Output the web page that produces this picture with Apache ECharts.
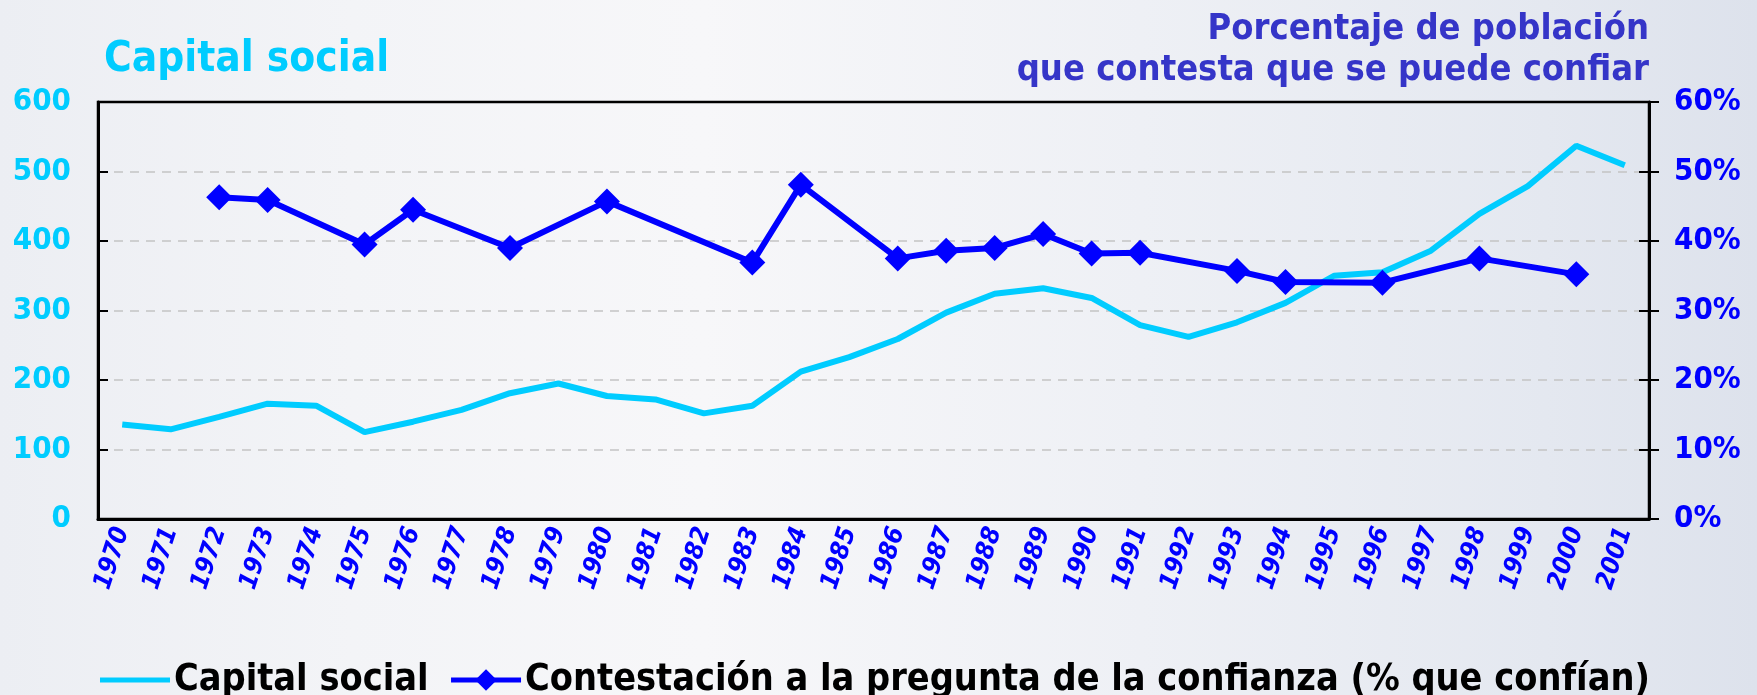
<!DOCTYPE html>
<html>
<head>
<meta charset="utf-8">
<script src="https://cdn.jsdelivr.net/npm/echarts@6/dist/echarts.min.js"></script>
<style>
  html, body { margin: 0; padding: 0; }
  body {
    width: 1757px; height: 695px; overflow: hidden;
    background: linear-gradient(90deg, #eceef3 0%, #f3f4f7 20%, #f7f7f9 40%, #eef0f5 65%, #e4e8f0 88%, #dde2ec 100%);
  }
  #chart { width: 1757px; height: 695px; }
</style>
</head>
<body>
<div id="chart"></div>
<script>
const years = ['1970','1971','1972','1973','1974','1975','1976','1977','1978','1979',
  '1980','1981','1982','1983','1984','1985','1986','1987','1988','1989',
  '1990','1991','1992','1993','1994','1995','1996','1997','1998','1999','2000','2001'];

const capitalSocial = [136, 129, 147, 166, 163, 125, 140, 157, 181, 195,
  177, 172, 152, 163, 212, 233, 259, 297, 324, 332,
  318, 279, 262, 283, 311, 350, 355, 386, 439, 479, 537, 509];

const confianza = [null, null, 46.3, 45.9, null, 39.5, 44.5, null, 39.0, null,
  45.7, null, null, 36.9, 48.1, null, 37.5, 38.6, 39.0, 41.0,
  38.2, 38.3, null, 35.7, 34.1, null, 34.0, null, 37.5, null, 35.2, null];

const leftTicks = { min: 0, max: 600, interval: 100 };
const rightTicks = { min: 0, max: 60, interval: 10 };

const COND = "'DejaVu Sans Condensed', 'Liberation Sans Narrow', 'DejaVu Sans', sans-serif";
const CYAN = '#00ccff';
const BLUE = '#0000ff';

const chart = echarts.init(document.getElementById('chart'), null, { renderer: 'canvas' });

chart.setOption({
  backgroundColor: 'transparent',
  animation: false,
  graphic: [
    { type: 'text', left: 104, top: 39, style: { text: 'Capital social', fill: CYAN, font: 'bold 42px ' + COND } },
    { type: 'text', style: { text: 'Porcentaje de población', x: 1649, y: 30, textAlign: 'right', textVerticalAlign: 'middle', fill: '#3535c8', font: 'bold 36px ' + COND } },
    { type: 'text', style: { text: 'que contesta que se puede confiar', x: 1649, y: 71, textAlign: 'right', textVerticalAlign: 'middle', fill: '#3535c8', font: 'bold 36px ' + COND } }
  ],
  grid: {
    left: 98, right: 108, top: 102, height: 417,
    show: true, borderColor: '#000', borderWidth: 2.5, backgroundColor: 'transparent'
  },
  legend: {
    top: 656, left: 95,
    itemWidth: 70, itemHeight: 27, itemGap: 20,
    lineStyle: { width: 5 },
    textStyle: { color: '#000', fontWeight: 'bold', fontSize: 37.5, fontFamily: COND, padding: [0, 0, 0, -1] },
    data: [
      { name: 'Capital social', icon: 'path://M0,0 L14,0 L14,1 L0,1 Z' },
      { name: 'Contestación a la pregunta de la confianza (% que confían)' }
    ]
  },
  xAxis: {
    type: 'category',
    data: years,
    boundaryGap: true,
    axisLine: { lineStyle: { color: '#000', width: 3 } },
    axisTick: { inside: true, length: 9, lineStyle: { color: '#000', width: 2 } },
    axisLabel: {
      interval: 0, rotate: 72, margin: 9,
      color: BLUE, fontStyle: 'italic', fontWeight: 'bold', fontSize: 25.5, fontFamily: COND
    },
    splitLine: { show: false }
  },
  yAxis: [
    {
      type: 'value', position: 'left', min: leftTicks.min, max: leftTicks.max, interval: leftTicks.interval,
      axisLine: { show: true, lineStyle: { color: '#000', width: 3 } },
      axisTick: { show: true, inside: true, length: 10, lineStyle: { color: '#000', width: 2 } },
      axisLabel: { color: CYAN, fontWeight: 'bold', fontSize: 31, fontFamily: COND, margin: 27 },
      splitLine: { show: true, showMinLine: false, showMaxLine: false, lineStyle: { color: '#c4c4c4', width: 1.5, type: [9, 7] } }
    },
    {
      type: 'value', position: 'right', min: rightTicks.min, max: rightTicks.max, interval: rightTicks.interval,
      axisLine: { show: true, lineStyle: { color: '#000', width: 3 } },
      axisTick: { show: true, inside: true, length: 10, lineStyle: { color: '#000', width: 2 } },
      axisLabel: { color: BLUE, fontWeight: 'bold', fontSize: 31, fontFamily: COND, margin: 25, formatter: '{value}%' },
      splitLine: { show: false }
    },
    {
      type: 'value', position: 'right', min: rightTicks.min, max: rightTicks.max, interval: rightTicks.interval,
      axisLine: { show: false },
      axisTick: { show: true, inside: false, length: 10, lineStyle: { color: '#000', width: 2 } },
      axisLabel: { show: false },
      splitLine: { show: false }
    }
  ],
  series: [
    {
      name: 'Capital social', type: 'line', yAxisIndex: 0,
      data: capitalSocial,
      symbol: 'none',
      lineStyle: { color: CYAN, width: 6 },
      itemStyle: { color: CYAN },
      z: 2
    },
    {
      name: 'Contestación a la pregunta de la confianza (% que confían)', type: 'line', yAxisIndex: 1,
      data: confianza, connectNulls: true,
      symbol: 'diamond', symbolSize: 26,
      lineStyle: { color: BLUE, width: 6 },
      itemStyle: { color: BLUE },
      z: 3
    }
  ]
});
</script>
</body>
</html>
